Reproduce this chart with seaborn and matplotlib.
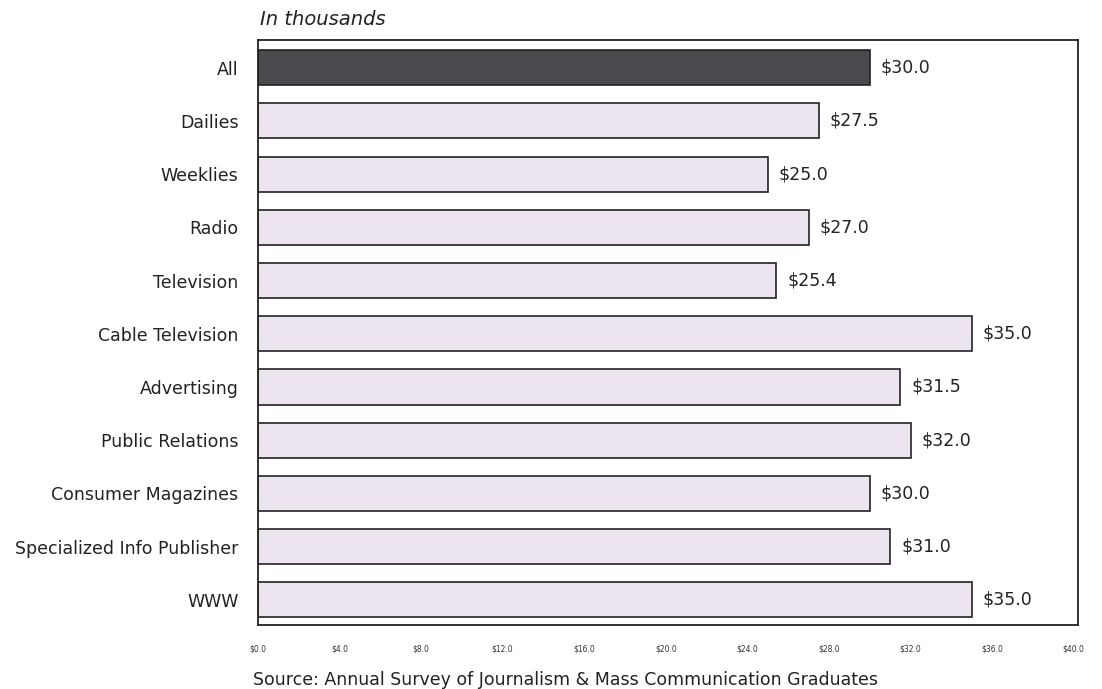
import matplotlib
matplotlib.use("Agg")
import matplotlib.pyplot as plt
import seaborn as sns
import pandas as pd

categories = ["All", "Dailies", "Weeklies", "Radio", "Television", "Cable Television",
              "Advertising", "Public Relations", "Consumer Magazines",
              "Specialized Info Publisher", "WWW"]
salaries = [30.0, 27.5, 25.0, 27.0, 25.4, 35.0, 31.5, 32.0, 30.0, 31.0, 35.0]
tick_values = [0, 4, 8, 12, 16, 20, 24, 28, 32, 36, 40]
tick_labels = ["$0.0", "$4.0", "$8.0", "$12.0", "$16.0", "$20.0", "$24.0",
               "$28.0", "$32.0", "$36.0", "$40.0"]

sns.set_theme(style="white")
plt.rcParams["font.family"] = ["DejaVu Sans"]

df = pd.DataFrame({"category": categories, "salary": salaries})
palette = {c: ("#4b4b4f" if c == "All" else "#ece4ee") for c in categories}

fig = plt.figure(figsize=(11.02, 6.89), dpi=100)
ax = fig.add_axes([0.234, 0.093, 0.744, 0.849])

sns.barplot(data=df, x="salary", y="category", hue="category", palette=palette,
            legend=False, edgecolor="#222222", linewidth=1.2, width=0.66,
            saturation=1, ax=ax)

for i, v in enumerate(salaries):
    ax.text(v + 0.55, i, f"${v:.1f}", va="center", ha="left", fontsize=12.5,
            color="#222222")

ax.set_xlim(0, 40.2)
ax.set_ylim(10.47, -0.52)
ax.set_xticks(tick_values)
ax.set_xticklabels(tick_labels, fontsize=5.5, color="#333333")
ax.tick_params(axis="x", length=0, pad=14)
ax.tick_params(axis="y", length=0, pad=14, labelsize=12.5, labelcolor="#222222")
ax.set_xlabel("")
ax.set_ylabel("")
for s in ax.spines.values():
    s.set_color("#222222")
    s.set_linewidth(1.3)

fig.text(0.236, 0.972, "In thousands", fontsize=14, style="italic",
         color="#222222", ha="left", va="center")
fig.text(0.230, 0.013, "Source: Annual Survey of Journalism & Mass Communication Graduates",
         fontsize=12.5, color="#222222", ha="left", va="center")

fig.savefig("out.png", dpi=100)
